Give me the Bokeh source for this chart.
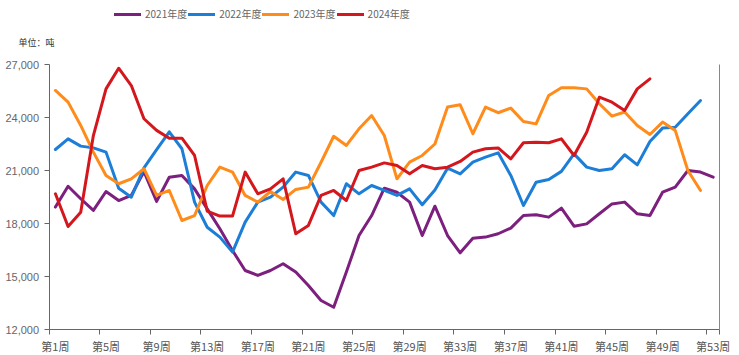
from bokeh.plotting import figure
from bokeh.models import (Range1d, FixedTicker, NumeralTickFormatter, LinearAxis,
                          Legend, LegendItem, Label)
from bokeh.embed import file_html
from bokeh.resources import INLINE

weeks = list(range(1, 54))
label_weeks = list(range(1, 54, 4))
week_labels = {w: f"第{w}周" for w in label_weeks}
boundary_ticks = [w - 0.5 for w in label_weeks] + [53.5]
y_ticks = [12000, 15000, 18000, 21000, 24000, 27000]
y_min, y_max = 12000, 27000
x_min, x_max = 0.5, 53.5

series_names = ["2021年度", "2022年度", "2023年度", "2024年度"]
series_colors = ["#7C1F7E", "#1C7ED6", "#FF8C1A", "#D4171C"]

y2021 = [18930, 20110, 19400, 18740, 19810, 19300, 19590, 20940, 19250, 20620,
         20720, 19960, 18830, 17700, 16470, 15340, 15060, 15340, 15720, 15250,
         14490, 13640, 13260, 15250, 17320, 18450, 20000, 19770, 19210, 17320,
         18980, 17320, 16340, 17170, 17230, 17420, 17740, 18450, 18490, 18360,
         18870, 17850, 17980, 18550, 19110, 19210, 18550, 18450, 19770, 20060,
         21000, 20910, 20620]
y2022 = [22190, 22790, 22380, 22280, 22040, 20000, 19490, 21150, 22180, 23190,
         22230, 19210, 17790, 17230, 16380, 18080, 19210, 19490, 20060, 20910,
         20720, 19210, 18450, 20250, 19680, 20150, 19870, 19590, 19960, 19060,
         19900, 21130, 20810, 21470, 21760, 22000, 20720, 19020, 20340, 20490,
         20950, 21940, 21190, 21000, 21100, 21890, 21320, 22640, 23400, 23450,
         24210, 24960]
y2023 = [25530, 24870, 23550, 22040, 20720, 20250, 20530, 21100, 19590, 19870,
         18170, 18450, 20150, 21190, 20910, 19590, 19210, 19810, 19360, 19930,
         20060, 21470, 22940, 22420, 23360, 24110, 22980, 20530, 21470, 21850,
         22500, 24590, 24720, 23080, 24590, 24270, 24530, 23770, 23640, 25250,
         25680, 25680, 25620, 24780, 24080, 24310, 23550, 23040, 23740, 23270,
         21000, 19870]
y2024 = [19680, 17830, 18640, 22980, 25620, 26790, 25810, 23930, 23270, 22830,
         22830, 21850, 18700, 18420, 18420, 20910, 19680, 19960, 20530, 17420,
         17890, 19590, 19870, 19300, 21000, 21190, 21430, 21280, 20810, 21280,
         21100, 21190, 21510, 22040, 22230, 22280, 21660, 22570, 22600, 22570,
         22790, 21850, 23170, 25150, 24870, 24400, 25620, 26190]

all_series = [y2021, y2022, y2023, y2024]

# The frame covers the whole canvas; the axes are pinned (fixed_location)
# to the edges of the data area and bounded to it.
W, H = 739, 355
LEFT_PX, RIGHT_PX, TOP_PX, BOTTOM_PX = 48.6, 719.0, 64.0, 329.0
px_per_x = (RIGHT_PX - LEFT_PX) / (x_max - x_min)
px_per_y = (BOTTOM_PX - TOP_PX) / (y_max - y_min)
x_lo = x_min - LEFT_PX / px_per_x
x_hi = x_max + (W - RIGHT_PX) / px_per_x
y_hi = y_max + TOP_PX / px_per_y
y_lo = y_min - (H - BOTTOM_PX) / px_per_y

p = figure(width=W, height=H, output_backend="svg", toolbar_location=None,
           x_range=Range1d(x_lo, x_hi), y_range=Range1d(y_lo, y_hi),
           x_axis_location=None, y_axis_location=None,
           min_border_left=0, min_border_right=0, min_border_top=0,
           min_border_bottom=0)
p.outline_line_color = None
p.grid.visible = False
p.background_fill_color = "white"
p.border_fill_color = "white"

# y axis
yaxis = LinearAxis(ticker=FixedTicker(ticks=y_ticks),
                   formatter=NumeralTickFormatter(format="0,0"),
                   bounds=(y_min, y_max), fixed_location=x_min)
yaxis.axis_line_color = "#666666"
yaxis.major_tick_line_color = "#666666"
yaxis.major_tick_in = 0
yaxis.major_tick_out = 5
yaxis.minor_tick_line_color = None
yaxis.major_label_text_color = "#666666"
yaxis.major_label_text_font = "Liberation Sans"
yaxis.major_label_text_font_size = "11px"
yaxis.major_label_standoff = 5
p.add_layout(yaxis, "left")

# right edge line
raxis = LinearAxis(ticker=FixedTicker(ticks=[]), bounds=(y_min, y_max),
                   fixed_location=x_max)
raxis.axis_line_color = "#888888"
raxis.major_tick_line_color = None
raxis.minor_tick_line_color = None
raxis.major_tick_out = 0
raxis.major_tick_in = 0
p.add_layout(raxis, "right")

# x axis: labels centred on categories, ticks on category boundaries
xaxis = LinearAxis(ticker=FixedTicker(ticks=label_weeks, minor_ticks=boundary_ticks),
                   major_label_overrides=week_labels, bounds=(x_min, x_max),
                   fixed_location=y_min)
xaxis.axis_line_color = "#666666"
xaxis.major_tick_line_color = None
xaxis.major_tick_in = 0
xaxis.major_tick_out = 5
xaxis.minor_tick_line_color = "#666666"
xaxis.minor_tick_in = 0
xaxis.minor_tick_out = 5
xaxis.major_label_standoff = 3
xaxis.major_label_text_color = "#555555"
xaxis.major_label_text_font = "Noto Sans CJK SC"
xaxis.major_label_text_font_size = "11px"
p.add_layout(xaxis, "below")

renderers = []
for ys, c in zip(all_series, series_colors):
    r = p.line(weeks[:len(ys)], ys, line_color=c, line_width=3,
               line_join="round", line_cap="round")
    renderers.append(r)

legend = Legend(items=[LegendItem(label=n, renderers=[r])
                       for n, r in zip(series_names, renderers)],
                orientation="horizontal", location=(114, H - 21))
legend.glyph_width = 27
legend.glyph_height = 14
legend.label_standoff = 4
legend.spacing = 1
legend.padding = 0
legend.margin = 0
legend.border_line_color = None
legend.background_fill_alpha = 0
legend.label_text_font = "Noto Sans CJK SC"
legend.label_text_font_size = "10px"
legend.label_text_color = "#666666"
legend.label_height = 14
p.add_layout(legend, "center")

unit = Label(x=18, y=H - 42, x_units="screen", y_units="screen", text="单位：吨",
             text_font="Noto Sans CJK SC", text_font_size="9px",
             text_color="#333333", text_baseline="middle", text_align="left")
p.add_layout(unit)

open("out.html", "w").write(file_html(p, INLINE))
